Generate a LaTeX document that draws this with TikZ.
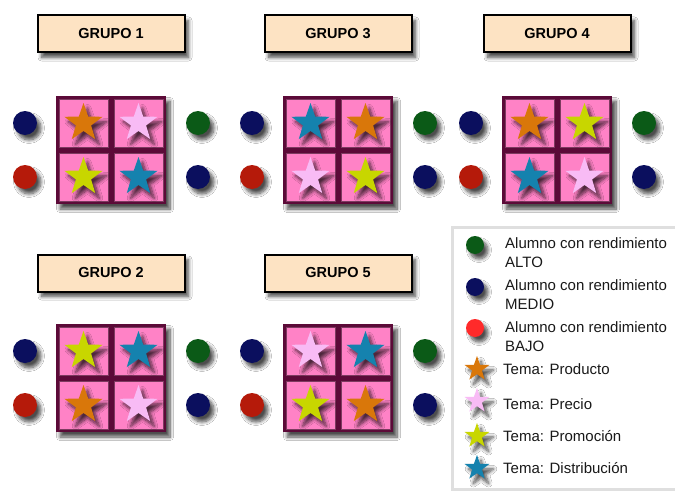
\documentclass[tikz,border=0pt]{standalone}
\usepackage{fontspec}
\setmainfont{Liberation Sans}
\usetikzlibrary{shapes.geometric,shadows.blur}
\definecolor{peach}{HTML}{FDE3C3}
\definecolor{celdapink}{HTML}{FF82C6}
\definecolor{maroon}{HTML}{5C0A38}
\definecolor{cprod}{HTML}{D9770A}
\definecolor{cprec}{HTML}{F8BBF5}
\definecolor{cprom}{HTML}{C8D600}
\definecolor{cdist}{HTML}{1582AE}
\definecolor{navy}{HTML}{0B0F5E}
\definecolor{verde}{HTML}{0B5A17}
\definecolor{rojo}{HTML}{B51A0A}
\definecolor{rojoleg}{HTML}{FF2A2A}
\tikzset{
  sombra/.style={blur shadow={shadow xshift=4pt, shadow yshift=-5pt, shadow blur radius=3.5pt, shadow blur steps=8, shadow opacity=70}},
  etiq/.style={draw=black, line width=2pt, fill=peach, minimum width=147, minimum height=37, inner sep=0, font=\fontsize{14.5}{16}\selectfont\bfseries, sombra},
  mesa/.style={fill=maroon, minimum width=110, minimum height=108, inner sep=0, sombra},
  celda/.style={fill=celdapink, draw=maroon!80!white, line width=0.6pt, minimum width=49, minimum height=48, inner sep=0},
  estrella/.style={star, star points=5, star point ratio=2.5, fill=#1, minimum size=40, inner sep=0, sombra},
  estrellita/.style={star, star points=5, star point ratio=2.5, fill=#1, minimum size=26, inner sep=0, sombra},
  punto/.style={circle, fill=#1, minimum size=24, inner sep=0, sombra},
  puntito/.style={circle, fill=#1, minimum size=18, inner sep=0, sombra},
  leytxt/.style={anchor=west, align=left, inner sep=0, text=black!90, font=\fontsize{15}{19}\selectfont},
}
\newcommand\grupo[9]{%
  \node[etiq] (#1lab) at (#3,#5) {GRUPO #2};
  \node[mesa] (#1mesa) at (#3,#4) {};
  \node[celda] (#1c11) at (#3-27.5,#4-27) {};
  \node[celda] (#1c12) at (#3+27.5,#4-27) {};
  \node[celda] (#1c21) at (#3-27.5,#4+27) {};
  \node[celda] (#1c22) at (#3+27.5,#4+27) {};
  \node[estrella=#6] (#1s11) at (#1c11) {};
  \node[estrella=#7] (#1s12) at (#1c12) {};
  \node[estrella=#8] (#1s21) at (#1c21) {};
  \node[estrella=#9] (#1s22) at (#1c22) {};
  \node[punto=navy] (#1p11) at (#3-86,#4-27) {};
  \node[punto=rojo] (#1p21) at (#3-86,#4+27) {};
  \node[punto=verde] (#1p12) at (#3+87,#4-27) {};
  \node[punto=navy] (#1p22) at (#3+87,#4+27) {};
}
\begin{document}
\begin{tikzpicture}[x=1pt,y=-1pt]
\useasboundingbox[fill=white] (0,0) rectangle (675,495);
\grupo{ga}{1}{111}{150}{34}{cprod}{cprec}{cprom}{cdist}
\grupo{gc}{3}{338}{150}{34}{cdist}{cprod}{cprec}{cprom}
\grupo{gd}{4}{557}{150}{34}{cprod}{cprom}{cdist}{cprec}
\grupo{gb}{2}{111}{378}{273}{cprom}{cdist}{cprod}{cprec}
\grupo{ge}{5}{338}{378}{273}{cprec}{cdist}{cprom}{cprod}
% legend
\node[draw=gray!25, line width=3pt, fill=white, minimum width=240, minimum height=262, inner sep=0, anchor=north west] (ley) at (451,226) {};
\node[puntito=verde] (l1) at (475,245) {};
\node[puntito=navy] (l2) at (475,287) {};
\node[puntito=rojoleg] (l3) at (475,328) {};
\node[estrellita=cprod] (l4) at (477,369) {};
\node[estrellita=cprec] (l5) at (477,401) {};
\node[estrellita=cprom] (l6) at (477,436) {};
\node[estrellita=cdist] (l7) at (477,468) {};
\node[leytxt] (t1) at (505,252.5) {Alumno con rendimiento\\ALTO};
\node[leytxt] (t2) at (505,294.5) {Alumno con rendimiento\\MEDIO};
\node[leytxt] (t3) at (505,337) {Alumno con rendimiento\\BAJO};
\node[leytxt] (t4) at (503,369) {Tema: Producto};
\node[leytxt] (t5) at (503,404) {Tema: Precio};
\node[leytxt] (t6) at (503,436) {Tema: Promoción};
\node[leytxt] (t7) at (503,468) {Tema: Distribución};
\end{tikzpicture}
\end{document}
